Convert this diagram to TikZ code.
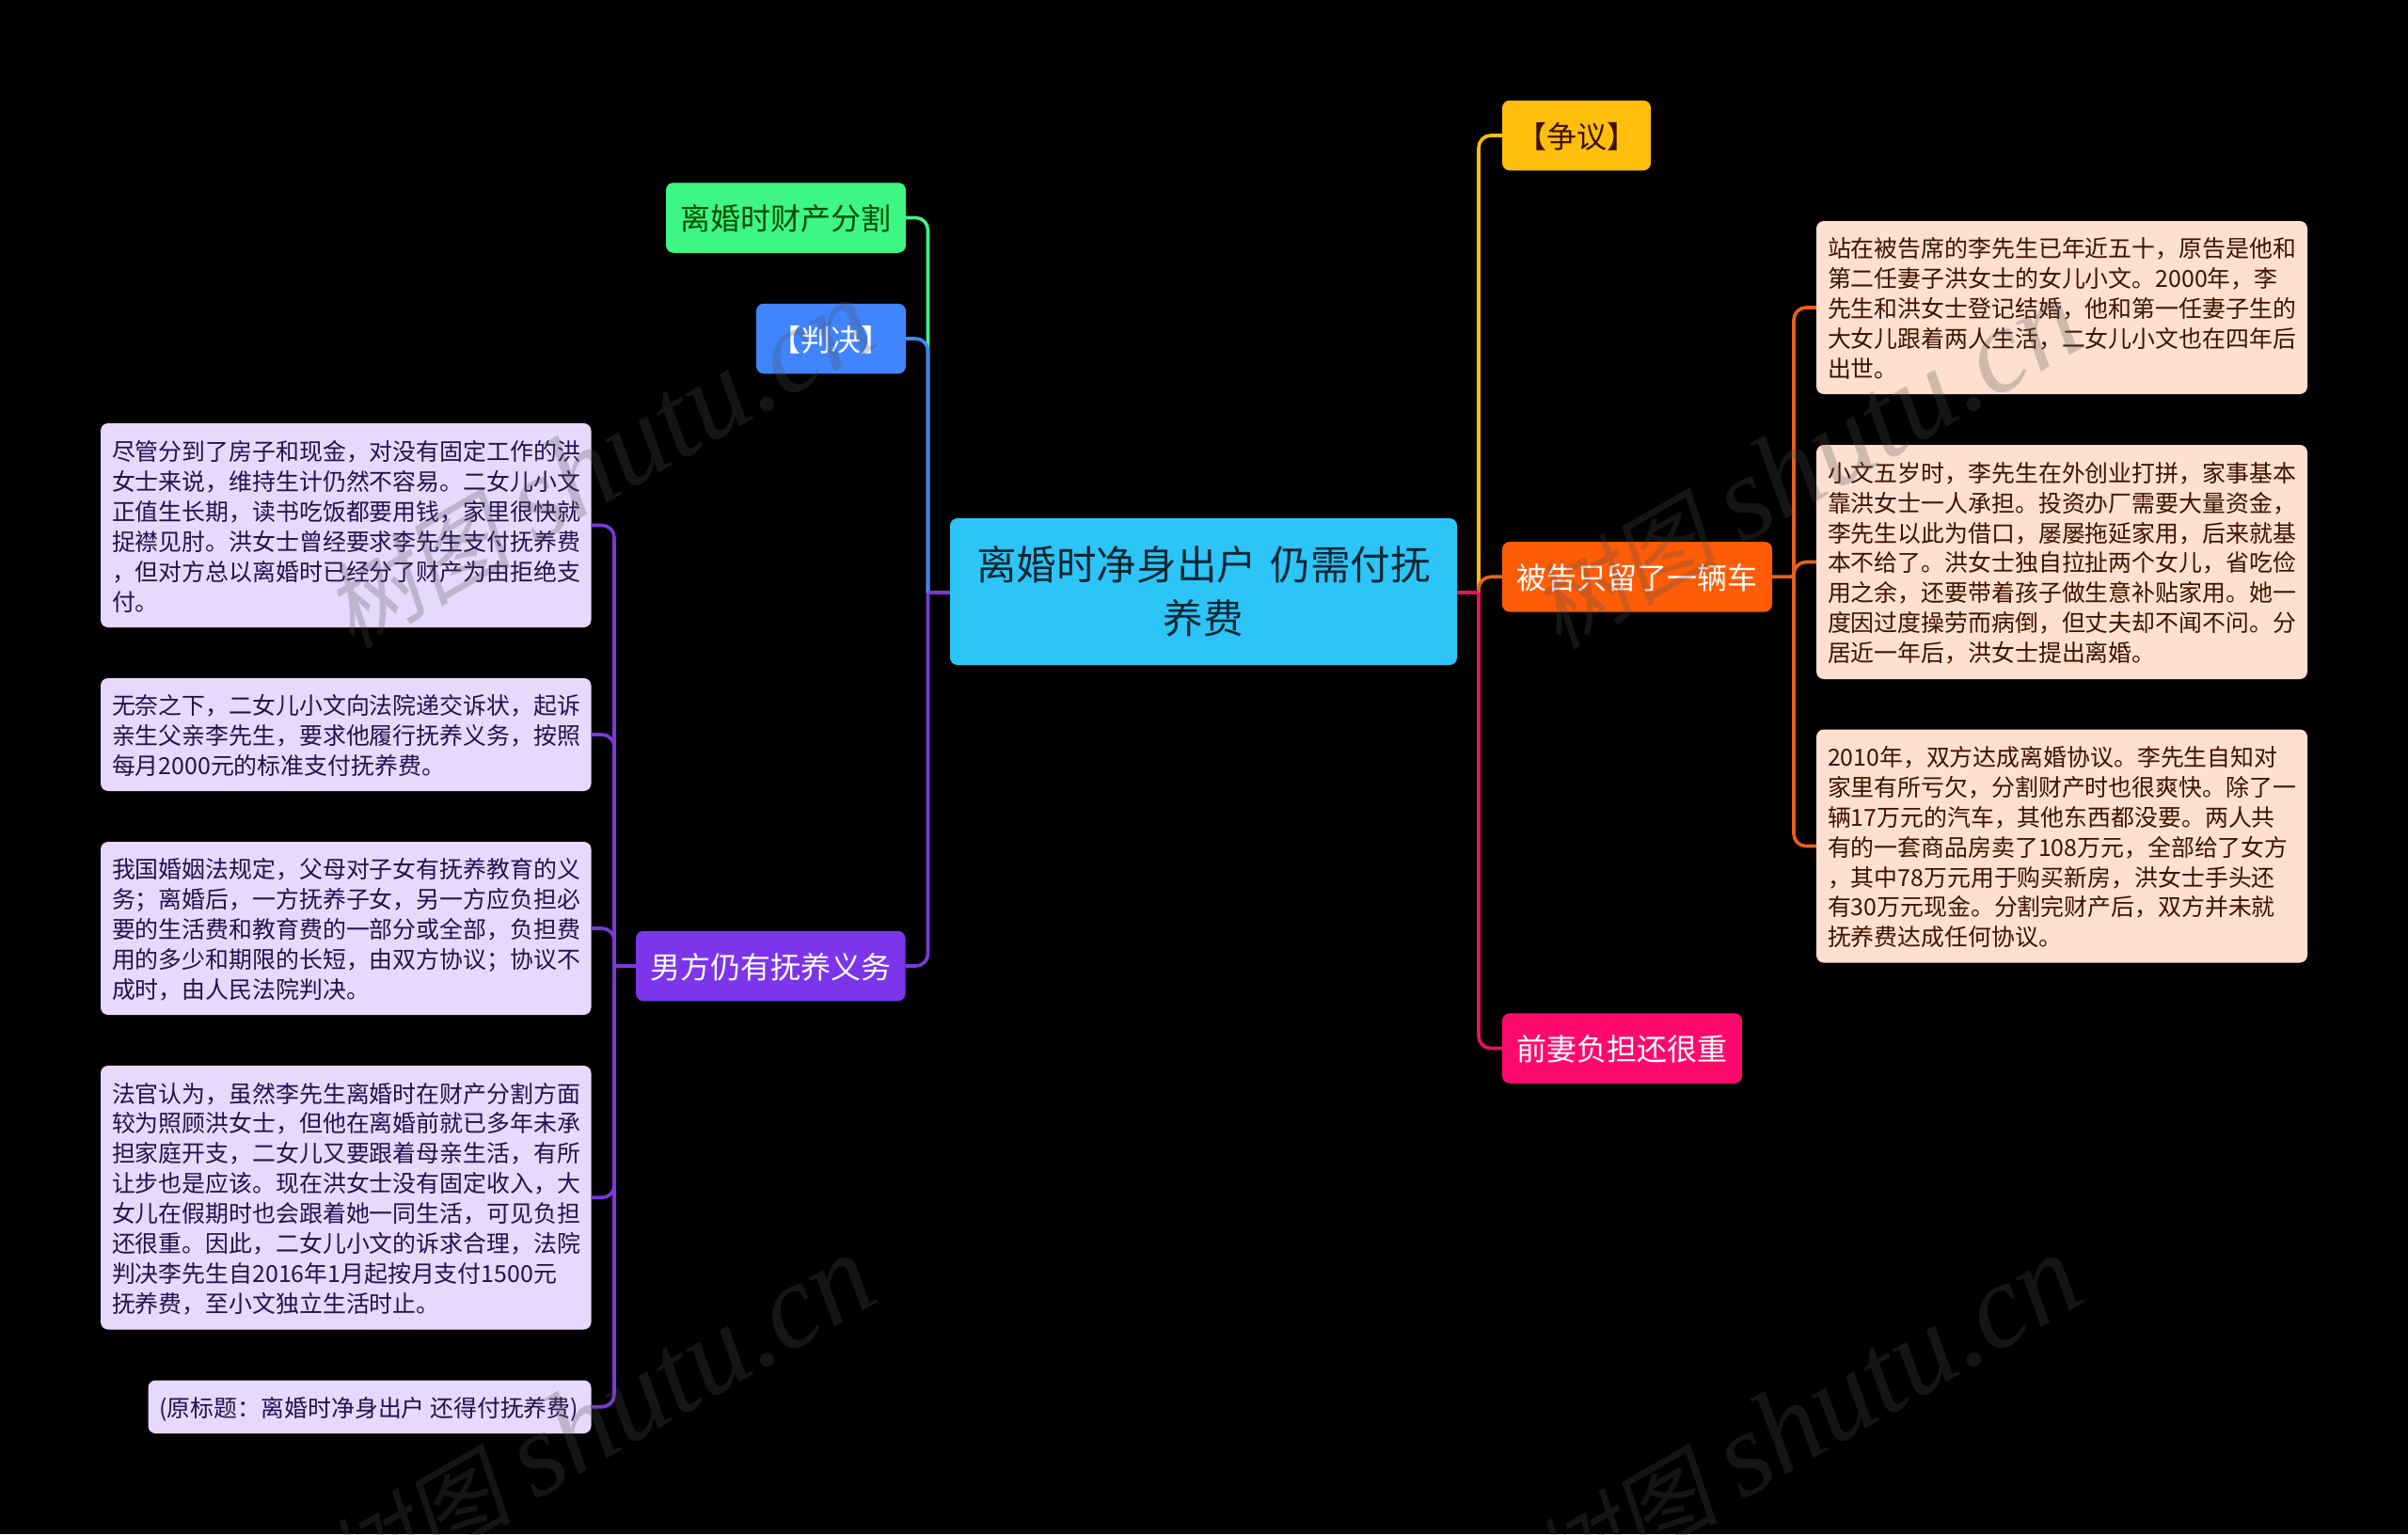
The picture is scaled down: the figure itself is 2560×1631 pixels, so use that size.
\documentclass[tikz,border=0pt]{standalone}
\usepackage{fontspec}
\setmainfont{Noto Sans CJK SC}
\newfontfamily\wmlatin{Liberation Serif}[ItalicFont=* Italic]
\newfontfamily\wmcjk{Noto Sans CJK SC}[FakeSlant=0.2]
\definecolor{bgc}{HTML}{000000}
\definecolor{rootc}{HTML}{2DC4F8}
\definecolor{greenc}{HTML}{3DF683}
\definecolor{bluec}{HTML}{4085FF}
\definecolor{yellowc}{HTML}{FFBD0C}
\definecolor{orangec}{HTML}{FF5C08}
\definecolor{pinkc}{HTML}{FF0A6C}
\definecolor{purplec}{HTML}{7C35EA}
\definecolor{peachc}{HTML}{FFE0D0}
\definecolor{lavc}{HTML}{E6D9FB}
\definecolor{peachtxt}{HTML}{3E1200}
\definecolor{lavtxt}{HTML}{280F4F}
\definecolor{rootline}{HTML}{E8125F}
\definecolor{oline}{HTML}{E8601C}
\definecolor{pline}{HTML}{7B3AD8}
\definecolor{wmc}{HTML}{515151}
\tikzset{
  x=1pt,y=-1pt,
  base/.style={rectangle,rounded corners=8pt,inner sep=0pt},
  topic/.style={base,font=\fontsize{32}{40}\selectfont,minimum height=74.5pt,text height=29pt,text depth=3pt},
  detail/.style={base,font=\fontsize{24.9}{31.9}\selectfont},
  peach/.style={detail,fill=peachc,text=peachtxt,minimum width=522pt},
  lav/.style={detail,fill=lavc,text=lavtxt,minimum width=521.5pt},
  conn/.style={line width=3.6pt,rounded corners=13pt},
  stub/.style={line width=3.6pt},
  wm/.style={rotate=30,text=wmc,text opacity=0.27,anchor=base west,inner sep=0pt},
}
\newcommand{\wmtext}{{\wmcjk\fontsize{100}{100}\selectfont 树图}\hspace{25pt}{\wmlatin\itshape\fontsize{127}{127}\selectfont shutu.cn}}
\newcommand{\dtext}[3][2.4pt]{\parbox[c]{#2}{\vspace*{#1}#3}}
\begin{document}
\begin{tikzpicture}
\useasboundingbox[fill=bgc] (0,0) rectangle (2560,1631);
% nodes
\node[base,fill=rootc,text=black!80!rootc,minimum width=539pt,minimum height=156pt,text width=510pt,align=center,font=\fontsize{42.6}{57}\selectfont] (root) at (1279.5,629) {离婚时净身出户 仍需付抚\\养费};
\node[topic,fill=greenc,text=green!30!black,minimum width=255pt] (t1) at (835.5,231.5) {离婚时财产分割};
\node[topic,fill=bluec,text=white,minimum width=159pt] (t2) at (883.5,360) {【判决】};
\node[topic,fill=purplec,text=white,minimum width=286.5pt] (t3) at (819.25,1027) {男方仍有抚养义务};
\node[topic,fill=yellowc,text=peachtxt,minimum width=158pt] (r1) at (1676,144) {【争议】};
\node[topic,fill=orangec,text=white,minimum width=287pt] (r2) at (1740.5,613.25) {被告只留了一辆车};
\node[topic,fill=pinkc,text=white,minimum width=255pt] (r3) at (1724.5,1114.5) {前妻负担还很重};
\node[peach,minimum height=184pt] (d1) at (2192,327) {\dtext{498pt}{站在被告席的李先生已年近五十，原告是他和\\第二任妻子洪女士的女儿小文。2000年，李\\先生和洪女士登记结婚，他和第一任妻子生的\\大女儿跟着两人生活，二女儿小文也在四年后\\出世。}};
\node[peach,minimum height=249pt] (d2) at (2192,597.5) {\dtext{498pt}{小文五岁时，李先生在外创业打拼，家事基本\\靠洪女士一人承担。投资办厂需要大量资金，\\李先生以此为借口，屡屡拖延家用，后来就基\\本不给了。洪女士独自拉扯两个女儿，省吃俭\\用之余，还要带着孩子做生意补贴家用。她一\\度因过度操劳而病倒，但丈夫却不闻不问。分\\居近一年后，洪女士提出离婚。}};
\node[peach,minimum height=248pt] (d3) at (2192,899.5) {\dtext{498pt}{2010年，双方达成离婚协议。李先生自知对\\家里有所亏欠，分割财产时也很爽快。除了一\\辆17万元的汽车，其他东西都没要。两人共\\有的一套商品房卖了108万元，全部给了女方\\，其中78万元用于购买新房，洪女士手头还\\有30万元现金。分割完财产后，双方并未就\\抚养费达成任何协议。}};
\node[lav,minimum height=217pt] (l1) at (367.75,558.5) {\dtext{497.5pt}{尽管分到了房子和现金，对没有固定工作的洪\\女士来说，维持生计仍然不容易。二女儿小文\\正值生长期，读书吃饭都要用钱，家里很快就\\捉襟见肘。洪女士曾经要求李先生支付抚养费\\，但对方总以离婚时已经分了财产为由拒绝支\\付。}};
\node[lav,minimum height=120pt] (l2) at (367.75,781) {\dtext{497.5pt}{无奈之下，二女儿小文向法院递交诉状，起诉\\亲生父亲李先生，要求他履行抚养义务，按照\\每月2000元的标准支付抚养费。}};
\node[lav,minimum height=184pt] (l3) at (367.75,987) {\dtext{497.5pt}{我国婚姻法规定，父母对子女有抚养教育的义\\务；离婚后，一方抚养子女，另一方应负担必\\要的生活费和教育费的一部分或全部，负担费\\用的多少和期限的长短，由双方协议；协议不\\成时，由人民法院判决。}};
\node[lav,minimum height=280.5pt] (l4) at (367.75,1273.25) {\dtext{497.5pt}{法官认为，虽然李先生离婚时在财产分割方面\\较为照顾洪女士，但他在离婚前就已多年未承\\担家庭开支，二女儿又要跟着母亲生活，有所\\让步也是应该。现在洪女士没有固定收入，大\\女儿在假期时也会跟着她一同生活，可见负担\\还很重。因此，二女儿小文的诉求合理，法院\\判决李先生自2016年1月起按月支付1500元\\抚养费，至小文独立生活时止。}};
\node[detail,fill=lavc,text=lavtxt,minimum width=471pt,minimum height=56.5pt] (l5) at (393,1495.75) {\dtext[6pt]{447pt}{\mbox{(原标题：离婚时净身出户 还得付抚养费)}}};
% trunks
\coordinate (tl) at (986.5,630);
\coordinate (tr) at (1572,630);
\coordinate (tp) at (653,1027);
\coordinate (to) at (1907,613);
% connectors
\draw[conn,greenc] (tl) -- (tl |- t1.east) -- (t1.east);
\draw[conn,bluec] (tl) -- (tl |- t2.east) -- (t2.east);
\draw[conn,pline] (tl) -- (tl |- t3.east) -- (t3.east);
\draw[stub,pline] (root.west |- tl) -- (tl);
\draw[conn,yellowc] (tr) -- (tr |- r1.west) -- (r1.west);
\draw[conn,oline] (tr) -- (tr |- r2.west) -- (r2.west);
\draw[conn,rootline] (tr) -- (tr |- r3.west) -- (r3.west);
\draw[stub,rootline] (root.east |- tr) -- (tr);
\draw[conn,oline] (to) -- (to |- d1.west) -- (d1.west);
\draw[conn,oline] (to) -- (to |- d2.west) -- (d2.west);
\draw[conn,oline] (to) -- (to |- d3.west) -- (d3.west);
\draw[stub,oline] (r2.east) -- (to);
\draw[conn,pline] (tp) -- (tp |- l1.east) -- (l1.east);
\draw[conn,pline] (tp) -- (tp |- l2.east) -- (l2.east);
\draw[conn,pline] (tp) -- (tp |- l3.east) -- (l3.east);
\draw[conn,pline] (tp) -- (tp |- l4.east) -- (l4.east);
\draw[conn,pline] (tp) -- (tp |- l5.east) -- (l5.east);
\draw[stub,pline] (t3.west) -- (tp);
% watermarks
\node[wm] (w1) at (374,692) {\wmtext};
\node[wm] (w2) at (1657,692) {\wmtext};
\node[wm] (w3) at (374,1708) {\wmtext};
\node[wm] (w4) at (1657,1708) {\wmtext};
\end{tikzpicture}
\end{document}
